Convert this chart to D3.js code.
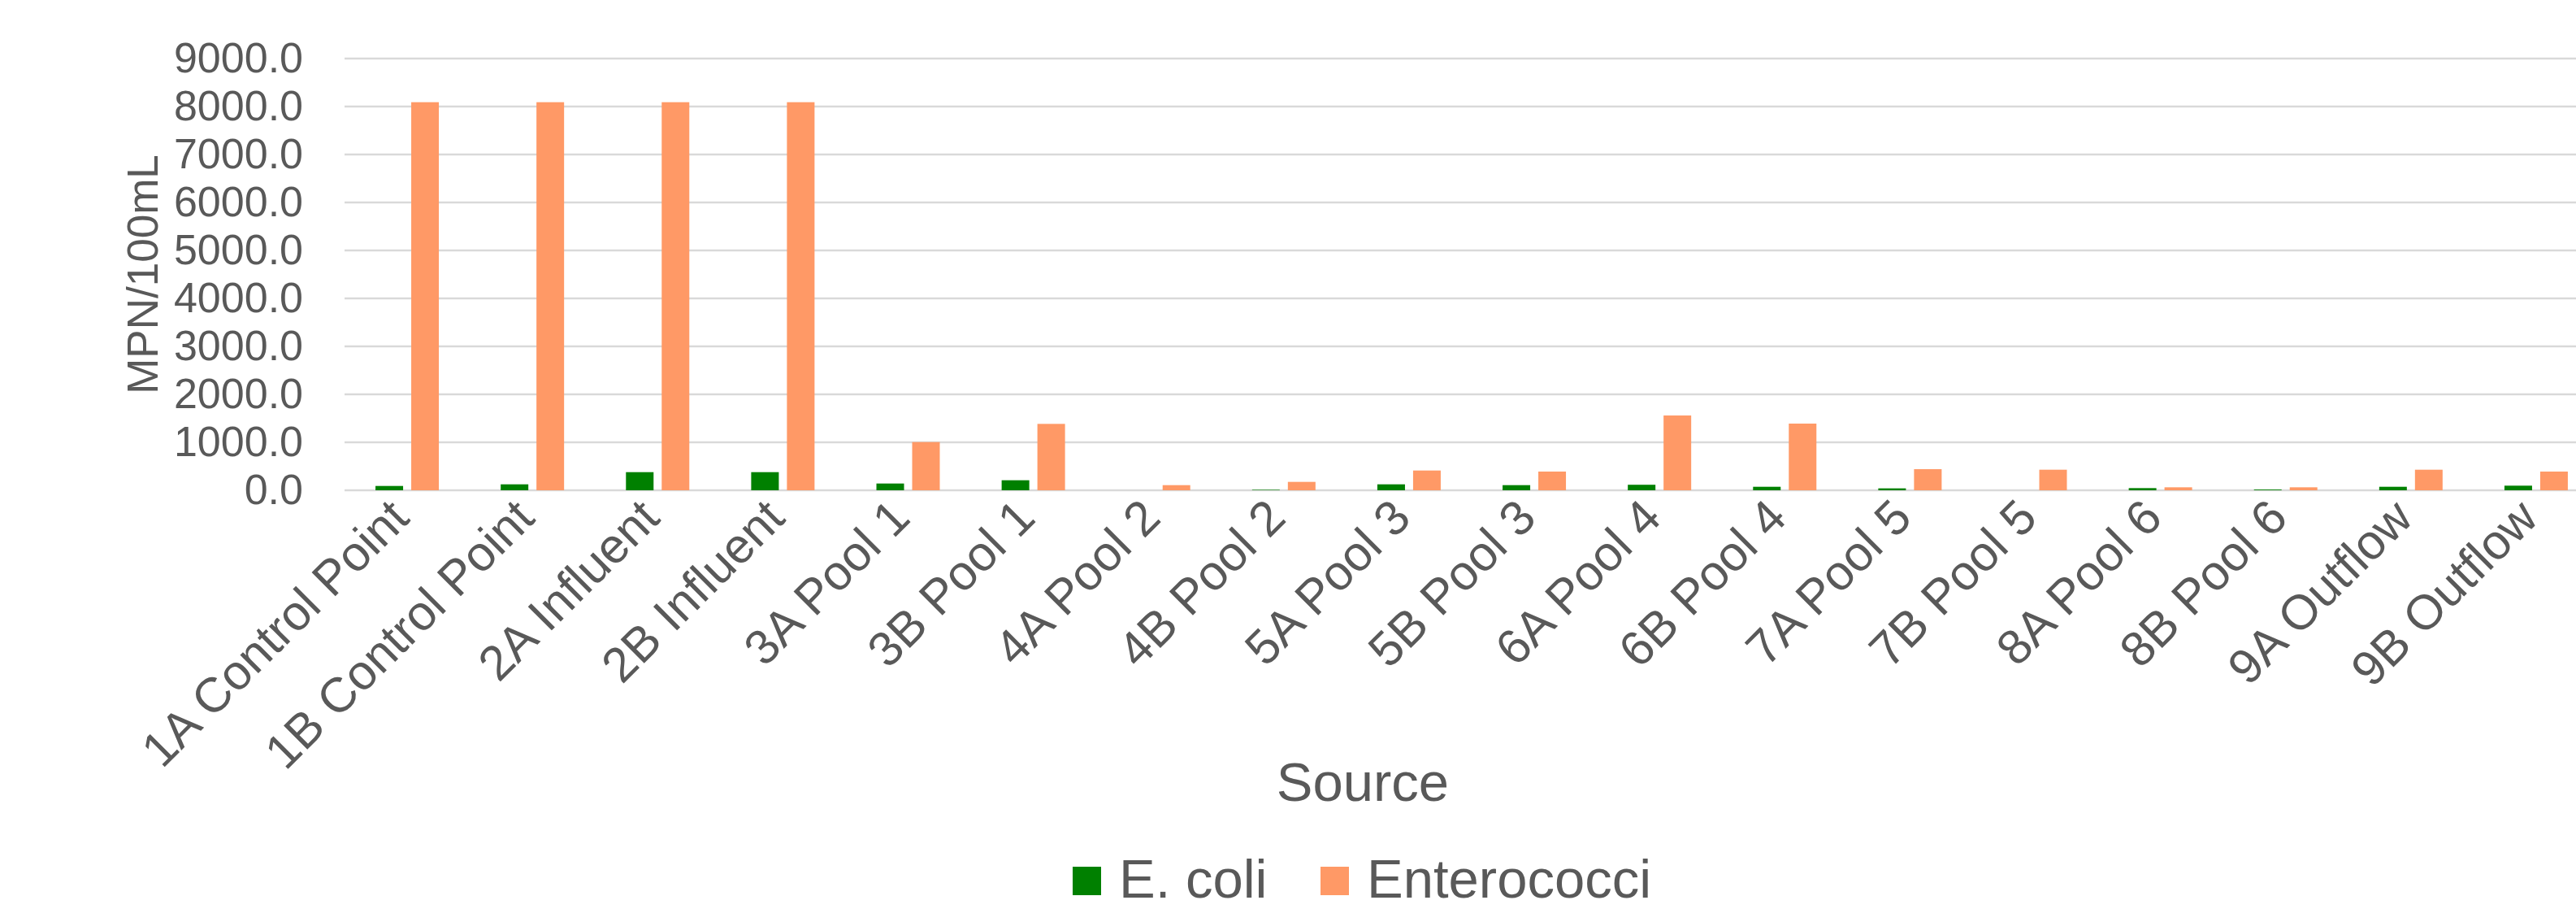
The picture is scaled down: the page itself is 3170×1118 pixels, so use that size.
<!DOCTYPE html>
<html>
<head>
<meta charset="utf-8">
<script src="https://cdn.jsdelivr.net/npm/d3@7"></script>
<style>
  body { margin: 0; background: #fff; }
  svg { display: block; font-family: "Liberation Sans", Arial, sans-serif; }
</style>
</head>
<body>
<script>
// data
const sources = ['1A Control Point', '1B Control Point', '2A Influent', '2B Influent',
  '3A Pool 1', '3B Pool 1', '4A Pool 2', '4B Pool 2', '5A Pool 3', '5B Pool 3',
  '6A Pool 4', '6B Pool 4', '7A Pool 5', '7B Pool 5', '8A Pool 6', '8B Pool 6',
  '9A Outflow', '9B Outflow'];
const ecoli = [90, 124, 378, 378, 141, 209, 0, 10, 124, 107, 115, 73, 40, 0, 45, 15, 73, 96];
const entero = [8090, 8090, 8090, 8090, 1005, 1384, 107, 175, 412, 390, 1559, 1390, 440, 429, 62, 62, 429, 390];
const seriesNames = ['E. coli', 'Enterococci'];
const yTicks = [0, 1000, 2000, 3000, 4000, 5000, 6000, 7000, 8000, 9000];

const colors = { 'E. coli': '#008000', 'Enterococci': '#ff9966' };
const textColor = '#595959';

const width = 3170, height = 1118;
// plot area (runs a little past the right edge, like the original)
const margin = { top: 72, left: 424, right: 3198, bottom: 603 };

const svg = d3.select('body')
  .append('svg')
  .attr('width', width)
  .attr('height', height);

// scales
const x = d3.scaleBand()
  .domain(sources)
  .range([margin.left, margin.right]);

const groupW = x.bandwidth() * 0.506;
const x1 = d3.scaleBand()
  .domain(seriesNames)
  .range([0, groupW])
  .paddingInner(0.2273);

const y = d3.scaleLinear()
  .domain([0, 9000])
  .range([margin.bottom, margin.top]);

// gridlines
svg.append('g')
  .selectAll('line')
  .data(yTicks)
  .join('line')
  .attr('x1', margin.left)
  .attr('x2', margin.right)
  .attr('y1', d => y(d))
  .attr('y2', d => y(d))
  .attr('stroke', '#d9d9d9')
  .attr('stroke-width', 2.5);

// y axis labels
svg.append('g')
  .attr('transform', `translate(${margin.left - 48},0)`)
  .call(d3.axisLeft(y).tickValues(yTicks).tickFormat(d3.format('.1f')).tickSize(0))
  .call(g => g.select('.domain').remove())
  .call(g => g.selectAll('text')
    .attr('fill', textColor)
    .style('font-size', '52px')
    .style('font-family', '"Liberation Sans", Arial, sans-serif'));

// bars
const rows = sources.map((s, i) => ({ source: s, values: [ecoli[i], entero[i]] }));

const group = svg.append('g')
  .selectAll('g')
  .data(rows)
  .join('g')
  .attr('transform', d => `translate(${x(d.source) + (x.bandwidth() - groupW) / 2},0)`);

group.selectAll('rect')
  .data(d => d.values.map((v, k) => ({ key: seriesNames[k], value: v })))
  .join('rect')
  .attr('x', d => x1(d.key))
  .attr('width', x1.bandwidth())
  .attr('y', d => y(d.value))
  .attr('height', d => y(0) - y(d.value))
  .attr('fill', d => colors[d.key]);

// x axis labels, rotated
svg.append('g')
  .selectAll('text')
  .data(sources)
  .join('text')
  .attr('transform', d => `translate(${x(d) + x.bandwidth() / 2 + 5},640) rotate(-45)`)
  .attr('text-anchor', 'end')
  .attr('fill', textColor)
  .style('font-size', '60px')
  .text(d => d);

// axis titles
svg.append('text')
  .attr('transform', `translate(194,${(margin.top + margin.bottom) / 2}) rotate(-90)`)
  .attr('text-anchor', 'middle')
  .attr('fill', textColor)
  .style('font-size', '53px')
  .text('MPN/100mL');

svg.append('text')
  .attr('x', 1677)
  .attr('y', 985)
  .attr('text-anchor', 'middle')
  .attr('fill', textColor)
  .style('font-size', '67px')
  .text('Source');

// legend
const legendX = [1320, 1625];
const legend = svg.append('g')
  .selectAll('g')
  .data(seriesNames)
  .join('g')
  .attr('transform', (d, i) => `translate(${legendX[i]},1066)`);

legend.append('rect')
  .attr('width', 35)
  .attr('height', 35)
  .attr('fill', d => colors[d]);

legend.append('text')
  .attr('x', 57)
  .attr('y', 38)
  .attr('fill', textColor)
  .style('font-size', '67px')
  .text(d => d);
</script>
</body>
</html>
